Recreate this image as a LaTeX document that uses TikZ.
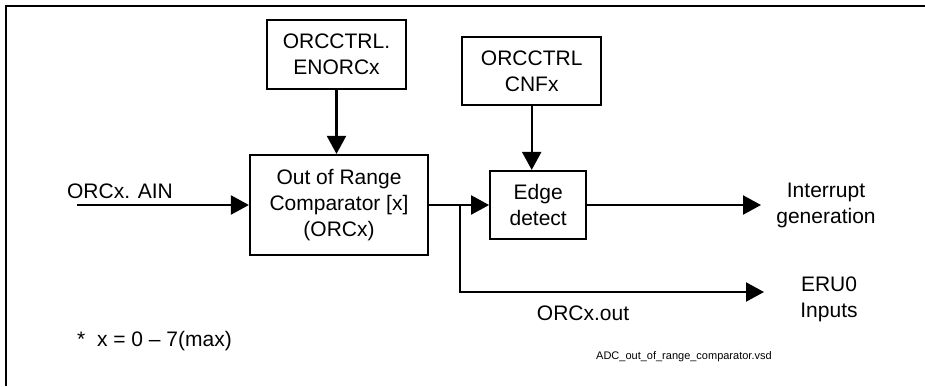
\documentclass[tikz,border=0pt]{standalone}
\usepackage{fontspec}
\setmainfont{Liberation Sans}
\usetikzlibrary{arrows.meta, positioning}

\begin{document}
\begin{tikzpicture}[
      x=1pt, y=1pt,
      font=\fontsize{21}{26}\selectfont,
      node distance=64pt and 60pt,
      box/.style={rectangle, draw, line width=2.2pt, align=center,
                  inner sep=2pt},
      lbl/.style={align=center, inner sep=0pt},
      arr/.style={line width=2.2pt, -{Triangle[length=18pt, width=19pt]}}
    ]
    \useasboundingbox (0,0) rectangle (925,-386);
    \draw[line width=2.4pt] (6,-386) -- (6,-6) -- (925,-6);

    % blocks
    \node[box, minimum width=178pt, minimum height=100pt] (orc) at (339,-205)
      {Out of Range\\Comparator [x]\\(ORCx)};
    \node[box, minimum width=96pt, minimum height=68pt, right=60pt of orc] (edge)
      {Edge\\detect};
    \node[box, minimum width=139pt, minimum height=69pt, above=64pt of orc,
          xshift=-2.5pt] (enorc) {ORCCTRL.\\ENORCx};
    \node[box, minimum width=139pt, minimum height=68pt, above=64pt of edge,
          xshift=-6.5pt] (cnf) {ORCCTRL\\CNFx};

    % end points
    \coordinate (ain) at (77,-205);
    \coordinate (split) at (460,-205);
    \coordinate (irq) at (761,-205);
    \coordinate (eru) at (764,-292);

    % labels
    \node[lbl] (ainlbl) at (120,-191) {ORCx. AIN};
    \node[lbl] (irqlbl) at (826,-205) {Interrupt\\generation};
    \node[lbl] (erulbl) at (829,-299) {ERU0\\Inputs};
    \node[lbl] (outlbl) at (583,-313) {ORCx.out};
    \node[lbl, anchor=west] (note) at (77,-341) {*\ \ x = 0 – 7(max)};
    \node[lbl, anchor=west, font=\fontsize{11}{13}\selectfont] (file)
      at (596,-357) {ADC\_out\_of\_range\_comparator.vsd};

    % connectors
    \draw[arr] (ain) -- (orc.west |- ain);
    \draw[arr] (enorc) -- (enorc |- orc.north);
    \draw[arr] (cnf) -- (cnf |- edge.north);
    \draw[arr] (orc.east |- split) -- (edge.west |- split);
    \draw[arr] (split) |- (eru);
    \draw[arr] (edge.east |- irq) -- (irq);

  \end{tikzpicture}
\end{document}
